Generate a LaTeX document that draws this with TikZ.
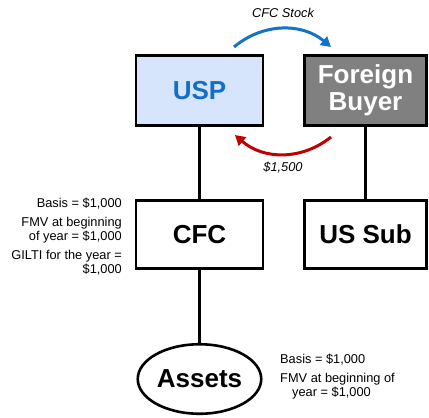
\documentclass[tikz,border=0pt]{standalone}
\usepackage{fontspec}
\setmainfont{Liberation Sans}
\usetikzlibrary{arrows.meta,shapes.geometric}
\definecolor{uspfill}{RGB}{214,228,252}
\definecolor{usptext}{RGB}{18,110,200}
\definecolor{buyerfill}{RGB}{128,128,128}
\definecolor{stockblue}{RGB}{18,115,200}
\definecolor{cashred}{RGB}{192,0,0}

\begin{document}
\begin{tikzpicture}[x=1pt,y=-1pt,
  entity/.style={draw=black, line width=2.6pt, inner sep=0pt,
    font=\fontsize{26}{27}\selectfont\bfseries, align=center},
  wide/.style={minimum width=127pt},
  narrow/.style={minimum width=122.5pt},
  owns/.style={line width=3.6pt},
  flow/.style={line width=3pt, -{Triangle[length=10pt,width=11pt]}},
  note/.style={font=\fontsize{12.8}{14}\selectfont, inner sep=0pt},
  flowlabel/.style={font=\fontsize{12.8}{14}\selectfont\itshape, inner sep=0pt}]
\useasboundingbox (0,0) rectangle (429,418);

% entities
\node[entity, wide, minimum height=70.5pt, fill=uspfill, text=usptext]
  (usp) at (199.5,90.5) {USP};
\node[entity, narrow, minimum height=70.5pt, fill=buyerfill, text=white]
  (buyer) at (365.5,90.5) {Foreign\\Buyer};
\node[entity, wide, minimum height=68.5pt, fill=white] (cfc) at (199.5,234.5) {CFC};
\node[entity, narrow, minimum height=68.5pt, fill=white] (ussub) at (365.5,234.5) {US Sub};
\node[entity, ellipse, minimum width=123.5pt, minimum height=69.5pt, fill=white]
  (assets) at (199.5,379) {Assets};

% ownership lines
\draw[owns] (usp.south) -- (cfc.north);
\draw[owns] (cfc.south) -- (assets.north);
\draw[owns] (buyer.south) -- (ussub.north);

% sale of the CFC stock and the cash paid for it
\coordinate (stockA) at (234,47);
\coordinate (stockB) at (331,47);
\coordinate (cashA) at (331,137);
\coordinate (cashB) at (235,135);
\draw[flow, stockblue] (stockA) to[bend left=40] (stockB);
\draw[flow, cashred] (cashA) to[bend left=40] (cashB);
\node[flowlabel, anchor=base] (stocklbl) at (283,17) {CFC Stock};
\node[flowlabel, anchor=base] (cashlbl) at (283,171) {\$1,500};

% CFC stock attributes
\node[note, anchor=base east] (n1) at (122,207) {Basis = \$1,000};
\node[note, anchor=base east] (n2) at (122,226) {FMV at beginning};
\node[note, anchor=base east] (n3) at (122,240) {of year = \$1,000};
\node[note, anchor=base east] (n4) at (122,259) {GILTI for the year =};
\node[note, anchor=base east] (n5) at (122,273) {\$1,000};

% asset attributes
\node[note, anchor=base west] (a1) at (280,363) {Basis = \$1,000};
\node[note, anchor=base west] (a2) at (280,382) {FMV at beginning of};
\node[note, anchor=base west] (a3) at (292,396) {year = \$1,000};
\end{tikzpicture}
\end{document}
